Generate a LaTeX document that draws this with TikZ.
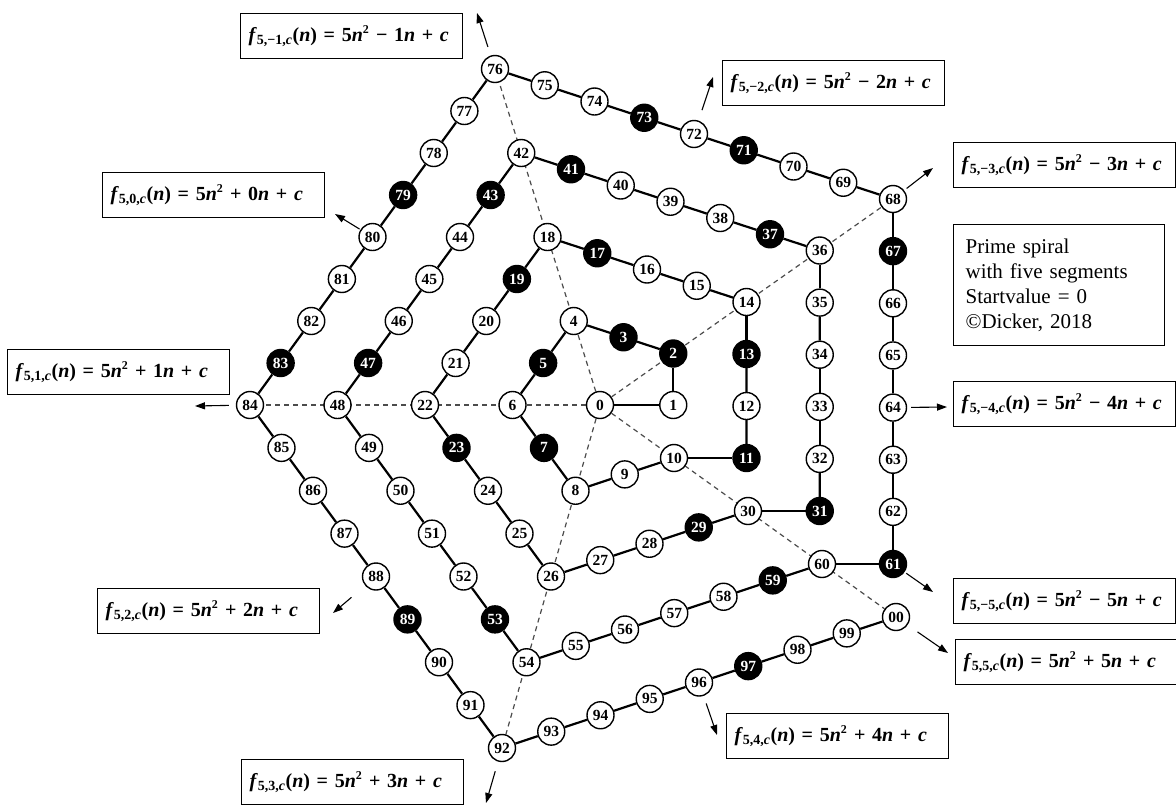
\documentclass[tikz,border=0pt]{standalone}
\usepackage{fontspec}
\setmainfont{Liberation Serif}
\usetikzlibrary{arrows.meta,calc,backgrounds}

\tikzset{
  num/.style={circle, draw, line width=1.4pt, minimum size=27pt, inner sep=0pt,
    font=\fontsize{15.5}{15.5}\selectfont\bfseries},
  spiral/.style={line width=2.2pt},
  ray/.style={line width=1.2pt, black!70, dash pattern=on 5pt off 4pt},
  outarrow/.style={line width=1.1pt, -{Triangle[length=10pt,width=7pt]}},
  formbox/.style={draw, line width=1.2pt, anchor=north west, minimum height=45pt,
    text width=206pt, inner xsep=8pt, align=left,
    font=\fontsize{20}{20}\selectfont\bfseries}
}
\newcommand{\fform}[3]{\mbox{\textit{f}\textsubscript{5,#1,\textit{c}}(\textit{n}) = 5\textit{n}\textsuperscript{\fontsize{12}{12}\selectfont 2} #2 #3\textit{n} + \textit{c}}}

\begin{document}
\begin{tikzpicture}[x=1pt,y=-1pt]
    \useasboundingbox (0,0) rectangle (1176,804);

    % Positions, ring by ring
    \coordinate (p0) at (600,405);
    \foreach \k in {1,...,4} {
        \pgfmathtruncatemacro\start{5*\k*\k-5*\k+1}
        \pgfmathtruncatemacro\up{2*\k-1}
        \pgfmathtruncatemacro\side{2*\k}
        \coordinate (S) at ({600+73.25*\k},{405+53*(\k-1)});
        \coordinate (R) at ({600+73.25*\k},{405-51.5*\k});
        \coordinate (U) at ({600-26.25*\k},{405-84*\k});
        \coordinate (L) at ({600-87.5*\k},405);
        \coordinate (D) at ({600-24.5*\k},{405+85.75*\k});
        \coordinate (E) at ({600+74*\k},{405+53*\k});
        \foreach \j in {0,...,\up} {
            \pgfmathtruncatemacro\n{\start+\j}
            \coordinate (p\n) at ($(S)!\j/\up!(R)$);
        }
        \foreach \a/\b/\off in {R/U/-3,U/L/-1,L/D/1,D/E/3} {
            \foreach \j in {1,...,\side} {
                \pgfmathtruncatemacro\n{5*\k*\k+\off*\k+\j}
                \coordinate (p\n) at ($(\a)!\j/\side!(\b)$);
            }
        }
    }

    % Numbers, primes in black
    \foreach \n in {0,...,100} {
        \pgfmathtruncatemacro\pr{isprime(\n)}
        \ifnum\pr=1 \def\nfill{black}\def\ntext{white}\else\def\nfill{white}\def\ntext{black}\fi
        \node[num, fill=\nfill, text=\ntext] (n\n) at (p\n) {\ifnum\n=100 00\else\n\fi};
    }

    % Rays and spiral
    \begin{scope}[on background layer]
        \foreach \c in {68,76,84,92,100}
            \draw[ray] (n0) -- (n\c);
        \foreach \i [evaluate=\i as \j using int(\i+1)] in {0,...,99}
            \draw[spiral] (n\i) -- (n\j);
    \end{scope}

    % Formulas
    \node[formbox] (b76) at (240,13) {\fform{−1}{−}{1}};
    \node[formbox] (b72) at (722,60) {\fform{−2}{−}{2}};
    \node[formbox] (b68) at (953,142) {\fform{−3}{−}{3}};
    \node[formbox] (b64) at (953,381) {\fform{−4}{−}{4}};
    \node[formbox] (b61) at (953,578) {\fform{−5}{−}{5}};
    \node[formbox] (b100) at (955,639) {\fform{5}{+}{5}};
    \node[formbox] (b96) at (726,713) {\fform{4}{+}{4}};
    \node[formbox] (b92) at (241,759) {\fform{3}{+}{3}};
    \node[formbox] (b88) at (97,588) {\fform{2}{+}{2}};
    \node[formbox] (b84) at (7,349) {\fform{1}{+}{1}};
    \node[formbox] (b80) at (102,172) {\fform{0}{+}{0}};

    % Arrows to the formulas
    \foreach \n/\x/\y/\gap in {76/477/13/9, 72/713/77/11, 68/933/168/3, 64/947/407/4,
            61/933/592/2, 100/948/653/12, 96/717/735/8, 92/486/803/10,
            88/333/613/18, 84/195/406/7, 80/335/214/1} {
        \coordinate (t\n) at (\x,\y);
        \draw[outarrow, shorten <=\gap pt] (n\n) -- (t\n);
    }

    % Legend
    \node[draw, line width=1.2pt, anchor=north west, minimum height=121pt,
        text width=187pt, inner xsep=12pt, align=left,
        font=\fontsize{21}{25}\selectfont] (info) at (953,224)
        {Prime spiral\\with five segments\\Startvalue = 0\\©Dicker, 2018};
\end{tikzpicture}
\end{document}
